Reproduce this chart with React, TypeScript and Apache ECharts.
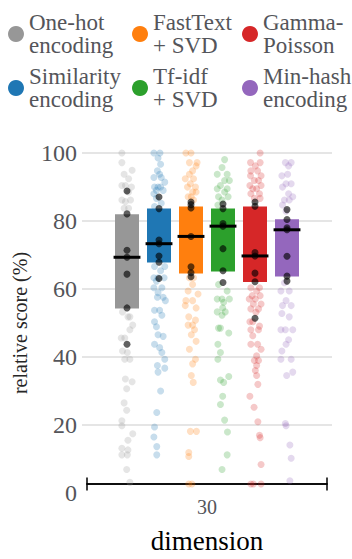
import React, { useEffect, useRef } from "react";
import * as echarts from "echarts";

const methods = [
  "One-hot encoding",
  "Similarity encoding",
  "FastText + SVD",
  "Tf-idf + SVD",
  "Gamma-Poisson",
  "Min-hash encoding",
];
const legendLabels = [
  "One-hot\nencoding",
  "Similarity\nencoding",
  "FastText\n+ SVD",
  "Tf-idf\n+ SVD",
  "Gamma-\nPoisson",
  "Min-hash\nencoding",
];
const categories = ["30"];

const boxQ1 = [53.0, 66.9, 63.6, 64.2, 61.0, 62.7];
const boxMedian = [68.5, 72.6, 74.8, 77.9, 68.9, 76.8];
const boxQ3 = [81.5, 83.2, 83.8, 83.2, 83.8, 80.0];

const oneHotMeans = [88.5, 81.6, 70.6, 68.5, 63.4, 53.2, 42.2];
const similarityMeans = [86.7, 83.2, 73.7, 72.6, 68.9, 67.0, 62.1];
const fastTextMeans = [85.2, 84.4, 83.4, 74.8, 65.6, 63.8, 62.6];
const tfidfMeans = [84.6, 83.2, 78.7, 77.9, 71.1, 64.4, 60.9];
const gammaMeans = [85.2, 83.9, 69.9, 68.9, 63.7, 61.1, 50.1];
const minhashMeans = [82.9, 79.9, 77.4, 76.8, 68.8, 62.8, 61.3];

// [jitter offset (in category slots), relative score]
const oneHotScores = [
  [-0.16, 100], [-0.16, 97.1], [0.16, 94.8], [-0.09, 93.6], [0.05, 92.2], [-0.16, 90.2], [-0.05, 90.2],
  [0.14, 89.7], [0.05, 88.2], [-0.16, 85.8], [0.11, 85.8], [-0.05, 85.3], [-0.09, 83.3], [0.05, 83.3],
  [-0.14, 52.0], [0.03, 50.5], [0.09, 50.5], [0.18, 48.0], [0.09, 46.6], [-0.18, 44.1], [-0.07, 44.1],
  [-0.14, 40.2], [0.01, 39.7], [-0.07, 37.7], [0.09, 37.7], [-0.05, 31.7], [0.16, 30.9], [-0.01, 28.8],
  [-0.09, 24.5], [-0.01, 22.3], [-0.16, 19.1], [-0.16, 17.6], [0.18, 15.2], [0.03, 13.2], [-0.16, 10.8],
  [0.03, 10.3], [0.01, 8.8], [-0.16, 8.8], [-0.01, 4.4], [0.09, 0.5],
];
const similarityScores = [
  [-0.16, 100], [0.03, 100], [-0.03, 98.5], [0.05, 96.6], [-0.05, 94.6], [0.02, 93.6], [-0.16, 92.6],
  [0.07, 92.6], [0.18, 91.2], [-0.14, 89.7], [-0.03, 89.7], [0.05, 89.7], [-0.08, 88.7], [0.13, 88.7],
  [-0.16, 87.7], [-0.08, 86.3], [0.07, 84.8], [-0.14, 83.8],
  [-0.14, 65.7], [0.18, 65.7], [0.05, 64.4], [-0.16, 62.3], [-0.03, 62.3], [0.16, 62.3], [-0.08, 61.3],
  [-0.16, 59.3], [0.09, 59.3], [-0.03, 57.8], [0.13, 56.4], [-0.05, 56.4], [0.2, 55.4], [-0.14, 52.5],
  [0.02, 52.5], [0.09, 51.0], [-0.14, 49.0], [-0.08, 47.5], [-0.03, 45.1], [0.13, 44.6], [-0.14, 42.2],
  [0.02, 41.2], [0.09, 39.7], [0.18, 37.7], [-0.05, 35.8], [0.18, 35.0], [-0.03, 33.8], [0.05, 28.1],
  [-0.07, 21.6], [-0.14, 17.2], [-0.16, 14.2], [-0.07, 11.3], [-0.07, 8.8],
];
const fastTextScores = [
  [-0.16, 100], [0, 100], [-0.05, 97.1], [0.19, 97.1], [0.16, 96.1], [0.05, 94.6], [-0.05, 93.6],
  [-0.18, 92.2], [0.08, 92.2], [-0.02, 90.7], [0.14, 89.7], [-0.11, 89.7], [0.05, 88.2], [0.16, 88.2],
  [-0.09, 86.8], [0.01, 86.8], [0.08, 85.8],
  [-0.05, 62.3], [0.08, 62.3], [0.05, 60.3], [-0.09, 58.3], [0.22, 57.4], [-0.16, 55.4], [0.05, 55.4],
  [-0.18, 53.9], [0.16, 53.2], [-0.07, 50.5], [0.14, 49.5], [-0.09, 48.0], [0.05, 48.0], [0.11, 46.6],
  [0.01, 45.1], [0.16, 43.1], [-0.05, 40.7], [0.14, 37.7], [0.05, 36.3], [0.01, 32.8], [0.07, 30.7],
  [-0.02, 15.9], [0.17, 15.9], [-0.07, 9.5], [-0.07, 8.3], [-0.07, 0], [0.03, 0],
];
const tfidfScores = [
  [0.05, 98.0], [-0.03, 95.6], [-0.18, 93.6], [0.13, 93.6], [0.05, 91.7], [0.2, 91.7], [-0.08, 90.2],
  [-0.18, 89.2], [0.13, 89.2], [0.05, 88.2], [-0.14, 86.8], [0.16, 86.8], [-0.03, 85.8], [-0.16, 84.3],
  [-0.14, 60.3], [0.13, 58.3], [-0.18, 55.9], [-0.03, 55.9], [0.2, 55.9], [0.02, 54.9], [-0.01, 53.2],
  [-0.18, 52.0], [0.07, 52.0], [-0.03, 51.0], [-0.14, 47.1], [-0.08, 47.1], [0.18, 45.6], [-0.16, 42.2],
  [-0.08, 39.7], [-0.16, 37.7], [0.18, 32.5], [-0.08, 31.4], [0.02, 30.7], [-0.01, 26.5], [-0.08, 24.0],
  [0.05, 19.3], [0.14, 15.7], [0.13, 8.8], [-0.03, 4.4],
];
const gammaScores = [
  [0.16, 100], [-0.14, 97.1], [0.16, 97.1], [0.01, 96.1], [-0.13, 94.6], [0.08, 94.6], [-0.14, 93.1],
  [0.19, 93.1], [-0.02, 91.7], [0.11, 91.7], [-0.16, 90.2], [0.19, 90.2], [-0.07, 89.2], [0.05, 89.2],
  [-0.13, 87.7], [0.14, 87.7], [-0.02, 86.3], [0.16, 86.3],
  [-0.13, 59.3], [0.14, 59.3], [0.05, 58.3], [-0.09, 56.9], [0.16, 56.9], [-0.18, 55.9], [0.01, 55.9],
  [-0.05, 54.4], [0.19, 54.4], [-0.13, 52.9], [0.11, 52.9], [0.03, 51.9], [-0.16, 49.0], [-0.07, 49.0],
  [0.14, 47.7], [-0.13, 46.6], [0.11, 46.6], [-0.07, 44.8], [0.08, 42.2], [-0.13, 42.2], [0.19, 40.7],
  [0.05, 38.7], [0.11, 37.3], [-0.02, 37.3], [0.05, 35.8], [0.01, 34.3], [0.05, 32.8], [0.09, 30.1],
  [-0.16, 26.5], [-0.03, 23.2], [0.09, 18.8], [0.14, 14.7], [0.16, 14.0], [0.19, 5.9], [-0.13, 0],
  [-0.05, 0], [0.19, 0],
];
const minhashScores = [
  [-0.05, 97.1], [0.13, 97.1], [0.05, 96.1], [0.02, 93.6], [-0.16, 93.1], [-0.03, 90.7], [0.13, 90.7],
  [-0.14, 89.7], [0.05, 87.7], [0.18, 86.8], [-0.08, 85.8], [0.07, 85.8], [-0.14, 84.3], [-0.03, 82.4],
  [-0.08, 60.8], [-0.19, 58.3], [0.07, 58.3], [-0.03, 55.4], [-0.14, 53.9], [0.13, 53.9], [-0.16, 51.5],
  [0.07, 50.5], [-0.19, 46.6], [-0.05, 46.6], [0.18, 46.6], [0.05, 43.6], [-0.03, 42.2], [-0.16, 40.2],
  [-0.19, 37.7], [0.13, 37.7], [0.18, 33.8], [-0.01, 32.8], [-0.05, 18.3], [-0.03, 17.6], [0.09, 11.8],
  [0.13, 7.8], [0.09, 1.0],
];

const allScores = [oneHotScores, similarityScores, fastTextScores, tfidfScores, gammaScores, minhashScores];
const allMeans = [oneHotMeans, similarityMeans, fastTextMeans, tfidfMeans, gammaMeans, minhashMeans];

const COLORS = ["#979797", "#1f77b4", "#ff7f0e", "#2ca02c", "#d62728", "#9467bd"];
const FONT = "Liberation Serif";

export default function App() {
  const ref = useRef<HTMLDivElement>(null);
  useEffect(() => {
    if (!ref.current) return;
    document.body.style.margin = "0";
    const chart = echarts.init(ref.current, null, { renderer: "svg" });
    const series: any[] = [];
    methods.forEach((m, i) => {
      series.push({
        type: "scatter",
        name: m + " (datasets)",
        xAxisIndex: 0,
        yAxisIndex: 1,
        data: allScores[i].map(([o, v]) => [i + o, v]),
        symbolSize: 7,
        itemStyle: { color: COLORS[i], opacity: 0.25 },
        clip: false,
        silent: true,
        z: 1,
      });
    });
    methods.forEach((m, i) => {
      series.push({
        type: "custom",
        name: m,
        xAxisIndex: 0,
        yAxisIndex: 1,
        itemStyle: { color: COLORS[i] },
        data: [[i, boxQ1[i], boxMedian[i], boxQ3[i]]],
        encode: { x: 0, y: [1, 2, 3] },
        renderItem: (params: any, api: any) => {
          const x = api.value(0);
          const top = api.coord([x, api.value(3)]);
          const bot = api.coord([x, api.value(1)]);
          const w = api.size([0.75, 0])[0];
          return {
            type: "rect",
            shape: { x: top[0] - w / 2, y: top[1], width: w, height: bot[1] - top[1] },
            style: { fill: api.visual("color") },
          };
        },
        silent: true,
        z: 2,
      });
      series.push({
        type: "scatter",
        name: m + " (mean)",
        xAxisIndex: 0,
        yAxisIndex: 1,
        data: allMeans[i].map((v) => [i, v]),
        symbolSize: 7,
        itemStyle: { color: "rgba(0,0,0,0.78)" },
        clip: false,
        silent: true,
        z: 3,
      });
    });
    series.push({
      type: "custom",
      name: "median",
      xAxisIndex: 0,
      yAxisIndex: 1,
      data: boxMedian.map((v, i) => [i, v]),
      encode: { x: 0, y: 1 },
      renderItem: (params: any, api: any) => {
        const p = api.coord([api.value(0), api.value(1)]);
        const w = api.size([0.84, 0])[0];
        return {
          type: "line",
          shape: { x1: p[0] - w / 2, y1: p[1], x2: p[0] + w / 2, y2: p[1] },
          style: { stroke: "#000", lineWidth: 3 },
        };
      },
      silent: true,
      z: 4,
    });

    const legendLefts = [8, 132, 242];
    const option: any = {
      animation: false,
      textStyle: { fontFamily: FONT },
      legend: [0, 1, 2].map((c) => ({
        data: [methods[2 * c], methods[2 * c + 1]],
        orient: "vertical",
        left: legendLefts[c],
        top: 11,
        padding: 0,
        itemGap: 8,
        itemWidth: 16,
        itemHeight: 16,
        icon: "circle",
        selectedMode: false,
        formatter: (name: string) => legendLabels[methods.indexOf(name)],
        textStyle: { fontFamily: FONT, fontSize: 23 },
      })),
      grid: [
        { left: 82, right: 20, top: 153, bottom: 66 },
        { left: 87, right: 25, top: 153, bottom: 66 },
      ],
      xAxis: [
        { type: "value", gridIndex: 1, position: "bottom", min: -1.25, max: 6.25, show: false },
        {
          type: "category",
          gridIndex: 1,
          position: "bottom",
          data: categories,
          axisLine: { onZero: false, lineStyle: { color: "#000", width: 1.5 } },
          axisTick: { show: true, length: 6.5, lineStyle: { color: "#000", width: 1.5 } },
          axisLabel: { fontFamily: FONT, fontSize: 20, margin: 13 },
          name: "dimension",
          nameLocation: "middle",
          nameGap: 43,
          nameTextStyle: { fontFamily: FONT, fontSize: 27 },
          splitLine: { show: false },
        },
        {
          type: "category",
          gridIndex: 1,
          position: "bottom",
          data: categories,
          axisLine: { onZero: false, lineStyle: { color: "#000", width: 1.5 } },
          axisTick: { show: true, inside: true, length: 6.5, lineStyle: { color: "#000", width: 1.5 } },
          axisLabel: { show: false },
          splitLine: { show: false },
        },
        { type: "value", gridIndex: 0, min: 0, max: 1, show: false },
      ],
      yAxis: [
        {
          type: "value",
          gridIndex: 0,
          min: 0,
          max: 100,
          interval: 20,
          axisLine: { show: false },
          axisTick: { show: false },
          axisLabel: { fontFamily: FONT, fontSize: 24, margin: 5 },
          splitLine: { show: true, showMinLine: false, lineStyle: { color: "#dcdcdc", width: 1.5 } },
          name: "relative score (%)",
          nameLocation: "middle",
          nameGap: 52,
          nameTextStyle: { fontFamily: FONT, fontSize: 20, color: "#262626" },
        },
        { type: "value", gridIndex: 1, min: 0, max: 100, show: false },
      ],
      series,
    };
    chart.setOption(option);
    return () => chart.dispose();
  }, []);
  return <div ref={ref} style={{ width: 352, height: 559 }} />;
}
